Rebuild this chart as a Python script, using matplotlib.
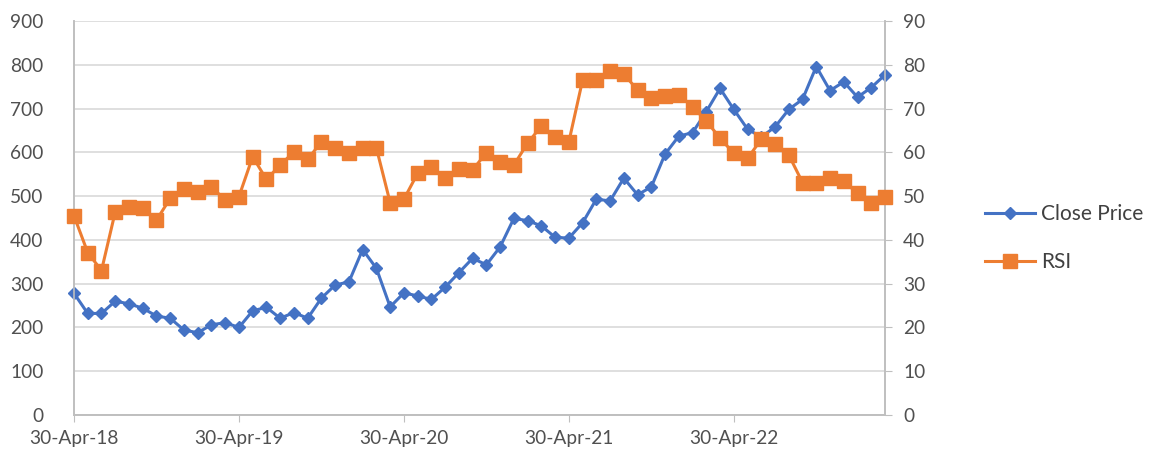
import matplotlib
matplotlib.use("Agg")
import matplotlib.pyplot as plt
import numpy as np

# monthly closes, 30-Apr-18 .. 31-Mar-23
close_price = [
    278, 232, 232, 260, 254, 244, 226, 221, 194, 188,
    206, 211, 200, 238, 246, 221, 234, 221, 267, 297,
    304, 378, 335, 247, 279, 272, 264, 292, 325, 358,
    343, 384, 449, 444, 432, 406, 404, 439, 493, 489,
    541, 503, 521, 596, 637, 645, 693, 746, 698, 653,
    635, 658, 698, 721, 796, 741, 761, 726, 748, 777,
]
rsi = [
    45.5, 37.1, 33.0, 46.4, 47.6, 47.2, 44.5, 49.5, 51.6, 51.0,
    52.1, 49.1, 49.9, 59.0, 53.8, 57.1, 60.1, 58.4, 62.4, 61.1,
    59.8, 60.9, 61.0, 48.5, 49.3, 55.2, 56.7, 54.1, 56.3, 56.0,
    59.9, 57.9, 57.1, 62.1, 66.0, 63.4, 62.4, 76.5, 76.5, 78.6,
    77.9, 74.2, 72.3, 72.9, 73.1, 70.4, 67.2, 63.2, 59.8, 58.6,
    63.0, 61.9, 59.4, 53.1, 53.1, 54.1, 53.5, 50.6, 48.5, 49.9,
]
tick_months = [0, 12, 24, 36, 48]
tick_labels = ["30-Apr-18", "30-Apr-19", "30-Apr-20", "30-Apr-21", "30-Apr-22"]

color_price = "#4472C4"
color_rsi = "#ED7D31"
grid_gray = "#D9D9D9"
axis_gray = "#BFBFBF"
text_gray = "#505050"

plt.rcParams["font.family"] = ["Lato", "DejaVu Sans"]
plt.rcParams["font.size"] = 13.8

fig = plt.figure(figsize=(11.54, 4.63), dpi=100)
ax = fig.add_axes([74 / 1154, 1 - 415 / 463, (885 - 74) / 1154, (415 - 21) / 463])
ax2 = ax.twinx()

x = np.arange(len(close_price))
ax.plot(x, close_price, color=color_price, lw=2.2, marker="D", ms=6.5,
        label="Close Price", clip_on=False, zorder=3)
ax2.plot(x, rsi, color=color_rsi, lw=2.2, marker="s", ms=10,
         label="RSI", clip_on=False, zorder=3)

ax.set_xlim(0, len(close_price) - 1)
ax.set_ylim(0, 900)
ax.set_yticks(np.arange(0, 901, 100))
ax2.set_ylim(0, 90)
ax2.set_yticks(np.arange(0, 91, 10))
ax.set_xticks(tick_months)
ax.set_xticklabels(tick_labels)

ax.grid(axis="y", color=grid_gray, lw=1.2)
ax.set_axisbelow(True)
for a in (ax, ax2):
    a.spines["top"].set_visible(False)
    for s in ("left", "right", "bottom"):
        a.spines[s].set_color(axis_gray)
        a.spines[s].set_linewidth(1.2)
ax.tick_params(axis="y", length=0, pad=22, colors=text_gray)
ax.tick_params(axis="x", length=5, color=axis_gray, colors=text_gray, pad=6)
ax2.tick_params(axis="y", length=5, color=axis_gray, colors=text_gray, pad=8)
for lab in ax.get_yticklabels() + ax.get_xticklabels() + ax2.get_yticklabels():
    lab.set_color(text_gray)

h1, l1 = ax.get_legend_handles_labels()
h2, l2 = ax2.get_legend_handles_labels()
leg = fig.legend(h1 + h2, l1 + l2, loc="center left", bbox_to_anchor=(966 / 1154, 1 - 238 / 463),
                 frameon=False, handlelength=2.4, labelspacing=1.35, handletextpad=0.3,
                 fontsize=15)
for t in leg.get_texts():
    t.set_color("#404040")

fig.savefig("out.png", dpi=100)
